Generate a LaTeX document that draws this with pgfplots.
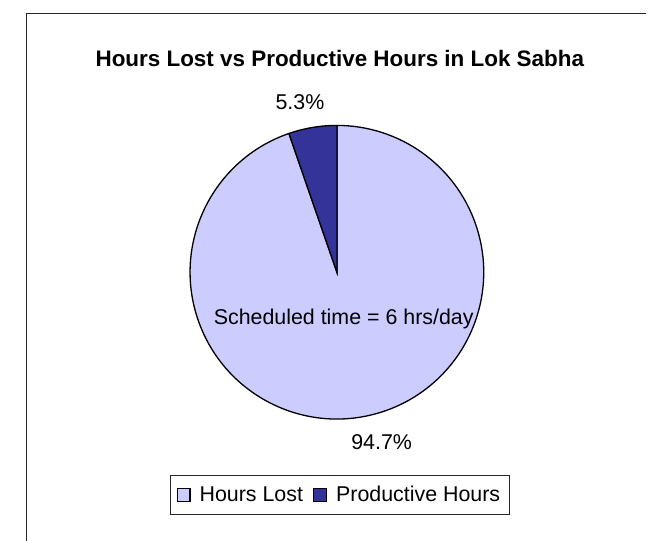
\documentclass[border=0pt]{standalone}
\usepackage{pgfplots}
\pgfplotsset{compat=1.18}
\usepackage{pgfplotstable}
\usepackage{fontspec}
\setmainfont{Liberation Sans}
\definecolor{lostc}{HTML}{CCCCFF}
\definecolor{prodc}{HTML}{333399}
\pgfplotstableread{
label value
Lost 94.7
Productive 5.3
}\piedata
\begin{document}
\pgfplotstablegetelem{0}{value}\of\piedata \let\vlost\pgfplotsretval
\pgfplotstablegetelem{1}{value}\of\piedata \let\vprod\pgfplotsretval
\pgfmathsetmacro{\aA}{90}
\pgfmathsetmacro{\aB}{90+3.6*\vprod}
\pgfmathsetmacro{\aC}{\aB+3.6*\vlost}
\newcommand{\lbl}{\fontsize{16.5}{19}\selectfont}
\newcommand{\ttl}{\fontsize{17.3}{20}\selectfont\bfseries}
\begin{tikzpicture}
\begin{axis}[
  x=0.75pt, y=0.75pt, xmin=0, xmax=648, ymin=0, ymax=556,
  scale only axis, hide axis, clip=false,
  legend columns=-1,
  legend style={at={(axis cs:331,47)}, anchor=center, draw=black!85, line width=0.7pt,
    font=\lbl, inner xsep=5pt, inner ysep=6.5pt,
    cells={anchor=west, inner xsep=0pt},
    /tikz/every odd column/.append style={column sep=5pt},
    /tikz/every even column/.append style={column sep=6pt}},
  legend image code/.code={\draw[#1, line width=0.8pt] (0pt,-4.9pt) rectangle (9.75pt,4.9pt);},
]
\coordinate (BL) at (axis cs:0,0);
\coordinate (TR) at (axis cs:648,556);
\draw[black!85, line width=0.8pt] (axis cs:9,0) -- (axis cs:9,542) -- (axis cs:646,542);
\addlegendimage{fill=lostc, draw=black}
\addlegendentry{Hours Lost}
\addlegendimage{fill=prodc, draw=black}
\addlegendentry{Productive Hours}
\filldraw[fill=lostc, draw=black, line width=1pt] (axis cs:328,276) -- ++(\aB:113.25pt) arc[start angle=\aB, end angle=\aC, radius=113.25pt] -- cycle;
\filldraw[fill=prodc, draw=black, line width=1pt] (axis cs:328,276) -- ++(\aA:113.25pt) arc[start angle=\aA, end angle=\aB, radius=113.25pt] -- cycle;
\node[font=\ttl] at (axis cs:331,496) {Hours Lost vs Productive Hours in Lok Sabha};
\node[font=\lbl] at (axis cs:290,451) {\vprod\%};
\node[font=\lbl] at (axis cs:374,101) {\vlost\%};
\node[font=\lbl] at (axis cs:335,228) {Scheduled time = 6 hrs/day};
\end{axis}
\pgfresetboundingbox
\path[use as bounding box] (BL) rectangle (TR);
\end{tikzpicture}
\end{document}
